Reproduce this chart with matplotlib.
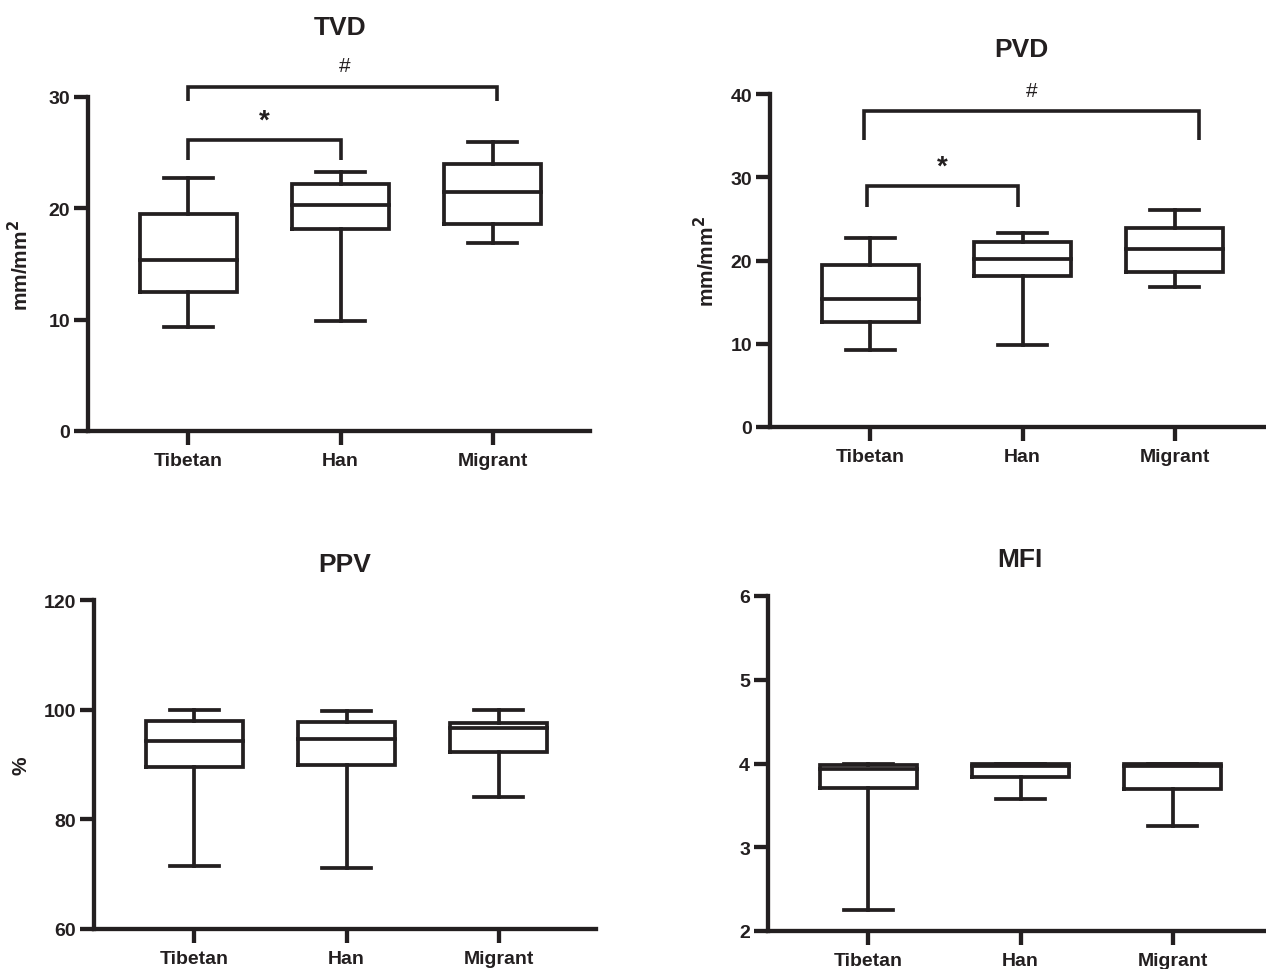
import matplotlib
matplotlib.use("Agg")
import matplotlib.pyplot as plt

plt.rcParams['font.family'] = ['Liberation Sans', 'DejaVu Sans']
plt.rcParams['font.weight'] = 'bold'
plt.rcParams['axes.labelweight'] = 'bold'
plt.rcParams['mathtext.default'] = 'bf'

groups = ["Tibetan", "Han", "Migrant"]

# five-number summaries (min, q1, median, q3, max), one value per group
tvd_min = [9.3, 9.9, 16.9]
tvd_q1 = [12.5, 18.1, 18.6]
tvd_med = [15.4, 20.3, 21.5]
tvd_q3 = [19.5, 22.2, 24.0]
tvd_max = [22.7, 23.3, 26.0]

pvd_min = [9.2, 9.8, 16.8]
pvd_q1 = [12.6, 18.1, 18.6]
pvd_med = [15.4, 20.2, 21.4]
pvd_q3 = [19.4, 22.2, 23.9]
pvd_max = [22.7, 23.3, 26.1]

ppv_min = [71.4, 71.1, 84.0]
ppv_q1 = [89.5, 89.9, 92.2]
ppv_med = [94.3, 94.6, 96.6]
ppv_q3 = [98.0, 97.7, 97.6]
ppv_max = [99.9, 99.7, 100.0]

mfi_min = [2.25, 3.58, 3.25]
mfi_q1 = [3.71, 3.835, 3.70]
mfi_med = [3.935, 3.965, 3.965]
mfi_q3 = [3.985, 4.0, 4.0]
mfi_max = [4.0, 4.0, 4.0]

INK = '#231f20'
W, H = 1266, 970
fig = plt.figure(figsize=(W / 100, H / 100), dpi=100)


def add_ax(left, top, bottom, width=502):
    return fig.add_axes([left / W, 1 - bottom / H, width / W, (bottom - top) / H])


def draw_panel(ax, mins, q1s, meds, q3s, maxs, ylim, yticks):
    stats = []
    for i in range(len(groups)):
        stats.append(dict(whislo=mins[i], q1=q1s[i], med=meds[i],
                          q3=q3s[i], whishi=maxs[i], fliers=[]))
    lp = dict(linewidth=2.7, color=INK, solid_joinstyle='miter', solid_capstyle='projecting')
    ax.bxp(stats, positions=[0, 1, 2], widths=0.64, showfliers=False,
           boxprops=lp, medianprops=lp, whiskerprops=lp, capprops=lp)
    ax.set_xlim(-0.66, 2.64)
    ax.set_ylim(*ylim)
    ax.set_yticks(yticks)
    ax.set_xticks([0, 1, 2])
    ax.set_xticklabels(groups)
    for s in ['top', 'right']:
        ax.spines[s].set_visible(False)
    for s in ['left', 'bottom']:
        ax.spines[s].set_linewidth(3.1)
        ax.spines[s].set_color(INK)
        ax.spines[s].set_capstyle('projecting')
    ax.tick_params(axis='both', length=10, width=3.1, color=INK, labelcolor=INK)
    ax.tick_params(axis='y', labelsize=14, pad=3)
    ax.tick_params(axis='x', labelsize=14, pad=5)
    ax.patch.set_visible(False)


def bracket(ax, x0, x1, ylow, yhigh):
    ax.plot([x0, x0, x1, x1], [ylow, yhigh, yhigh, ylow], color=INK, lw=2.6,
            clip_on=False, solid_joinstyle='miter', solid_capstyle='butt')


# TVD
ax1 = add_ax(88, 98, 432)
draw_panel(ax1, tvd_min, tvd_q1, tvd_med, tvd_q3, tvd_max, (0, 30), [0, 10, 20, 30])
ax1.set_ylabel('mm/mm$^2$', fontsize=15, fontweight='bold', color=INK)
ax1.yaxis.set_label_coords(-0.112, 0.5)
bracket(ax1, 0, 2.03, 29.6, 30.9)
bracket(ax1, 0, 1.0, 24.3, 26.1)
ax1.text(0.5, 27.9, '*', fontsize=20, ha='center', va='center', color=INK)
ax1.text(1.03, 32.8, '#', fontsize=15, fontweight='normal', ha='center', va='center', color=INK)
fig.text(340 / W, 1 - 28 / H, 'TVD', fontsize=19, ha='center', va='center', color=INK)

# PVD
ax2 = add_ax(770, 95, 428)
draw_panel(ax2, pvd_min, pvd_q1, pvd_med, pvd_q3, pvd_max, (0, 40), [0, 10, 20, 30, 40])
ax2.set_ylabel('mm/mm$^2$', fontsize=15, fontweight='bold', color=INK)
ax2.yaxis.set_label_coords(-0.104, 0.5)
bracket(ax2, -0.04, 2.16, 34.5, 37.9)
bracket(ax2, -0.02, 0.97, 26.4, 28.9)
ax2.text(0.47, 31.3, '*', fontsize=20, ha='center', va='center', color=INK)
ax2.text(1.06, 40.4, '#', fontsize=15, fontweight='normal', ha='center', va='center', color=INK)
fig.text(1021 / W, 1 - 50 / H, 'PVD', fontsize=19, ha='center', va='center', color=INK)

# PPV
ax3 = add_ax(94, 601, 930)
draw_panel(ax3, ppv_min, ppv_q1, ppv_med, ppv_q3, ppv_max, (60, 120), [60, 80, 100, 120])
ax3.set_ylabel('%', fontsize=15, fontweight='bold', color=INK)
ax3.yaxis.set_label_coords(-0.127, 0.5)
fig.text(345 / W, 1 - 565 / H, 'PPV', fontsize=19, ha='center', va='center', color=INK)

# MFI
ax4 = add_ax(768, 597, 932)
draw_panel(ax4, mfi_min, mfi_q1, mfi_med, mfi_q3, mfi_max, (2, 6), [2, 3, 4, 5, 6])
fig.text(1020 / W, 1 - 560 / H, 'MFI', fontsize=19, ha='center', va='center', color=INK)

fig.savefig('out.png', dpi=100)
